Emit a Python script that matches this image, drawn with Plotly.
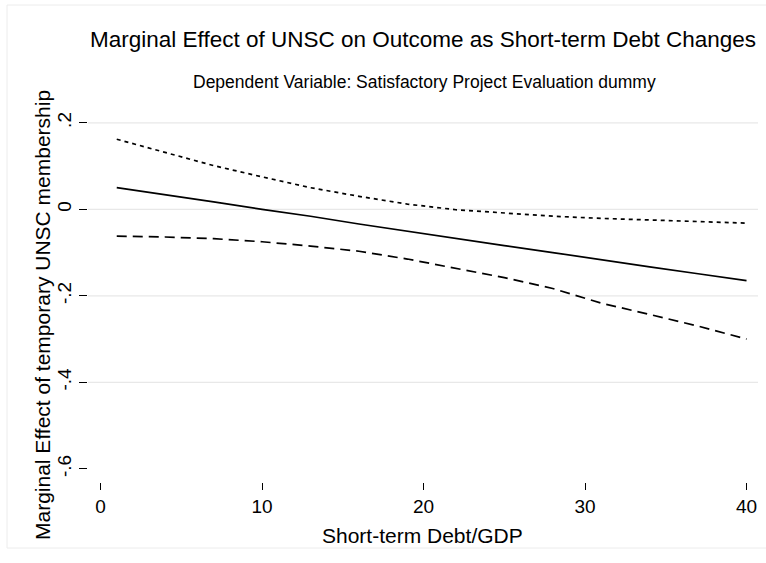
import plotly.graph_objects as go

# ---- data ----
debt_gdp = [1, 4, 7, 10, 13, 16, 19, 22, 25, 28, 31, 34, 37, 40]
marginal_effect = [0.050, 0.034, 0.017, 0.000, -0.016, -0.034, -0.051,
                   -0.068, -0.084, -0.100, -0.117, -0.133, -0.149, -0.165]
upper_bound = [0.162, 0.131, 0.101, 0.075, 0.050, 0.030, 0.012,
               -0.001, -0.009, -0.016, -0.021, -0.025, -0.029, -0.032]
lower_bound = [-0.062, -0.064, -0.068, -0.075, -0.085, -0.097, -0.115,
               -0.136, -0.158, -0.183, -0.217, -0.243, -0.270, -0.300]

x_ticks = [0, 10, 20, 30, 40]
x_tick_labels = ["0", "10", "20", "30", "40"]
y_ticks = [0.2, 0, -0.2, -0.4, -0.6]
y_tick_labels = [".2", "0", "-.2", "-.4", "-.6"]
grid_values = [0.2, 0, -0.2, -0.4]

title_text = "Marginal Effect of UNSC on Outcome as Short-term Debt Changes"
subtitle_text = "Dependent Variable: Satisfactory Project Evaluation dummy"
x_title = "Short-term Debt/GDP"
y_title = "Marginal Effect of temporary UNSC membership"

FONT = "Liberation Sans, Arial, Helvetica, sans-serif"
W, H = 766, 563
L, R, T, B = 88, 8, 110, 81

fig = go.Figure()
fig.add_trace(go.Scatter(x=debt_gdp, y=marginal_effect, mode="lines",
                         line=dict(color="black", width=1.7), showlegend=False))
fig.add_trace(go.Scatter(x=debt_gdp, y=upper_bound, mode="lines",
                         line=dict(color="black", width=1.7, dash="4px,4px"), showlegend=False))
fig.add_trace(go.Scatter(x=debt_gdp, y=lower_bound, mode="lines",
                         line=dict(color="black", width=1.7, dash="10px,6px"), showlegend=False))

shapes = []
for g in grid_values:
    shapes.append(dict(type="line", xref="paper", x0=0, x1=1, yref="y", y0=g, y1=g,
                       line=dict(color="#e8e8e8", width=1.3), layer="below"))

pw = W - L - R
ph = H - T - B
def px_x(p):
    return (p - L) / pw
def px_y(p):
    return (H - B - p) / ph

# faint outer frame
shapes.append(dict(type="rect", xref="paper", yref="paper",
                   x0=px_x(7), x1=px_x(775), y0=px_y(548), y1=px_y(5),
                   line=dict(color="#ececec", width=1), layer="below"))

annotations = [
    dict(text=title_text, xref="paper", yref="paper", x=px_x(423), y=px_y(40),
         showarrow=False, font=dict(size=22.5, color="black", family=FONT),
         xanchor="center", yanchor="middle"),
    dict(text=subtitle_text, xref="paper", yref="paper", x=px_x(424), y=px_y(82),
         showarrow=False, font=dict(size=17.5, color="black", family=FONT),
         xanchor="center", yanchor="middle"),
    dict(text=x_title, xref="paper", yref="paper", x=px_x(422), y=px_y(535),
         showarrow=False, font=dict(size=21, color="black", family=FONT),
         xanchor="center", yanchor="middle"),
    dict(text=y_title, xref="paper", yref="paper", x=px_x(42), y=px_y(315),
         showarrow=False, textangle=-90, font=dict(size=21, color="black", family=FONT),
         xanchor="center", yanchor="middle"),
]

fig.update_layout(
    width=W, height=H,
    margin=dict(l=L, r=R, t=T, b=B, pad=0),
    paper_bgcolor="white", plot_bgcolor="white",
    font=dict(family=FONT, color="black"),
    shapes=shapes, annotations=annotations,
    hovermode=False,
    xaxis=dict(range=[-0.78, 40.71], tickvals=x_ticks, ticktext=x_tick_labels,
               showgrid=False, zeroline=False, showline=False,
               ticks="outside", ticklen=7, tickwidth=1, tickcolor="black",
               tickfont=dict(size=19, family=FONT, color="black")),
    yaxis=dict(range=[-0.6305, 0.2296], tickvals=y_ticks, ticktext=y_tick_labels,
               showgrid=False, zeroline=False, showline=False,
               ticks="outside", ticklen=8, tickwidth=1, tickcolor="black",
               tickangle=-90,
               tickfont=dict(size=19, family=FONT, color="black")),
)

fig.write_html("out.html",
               config={"displayModeBar": False},
               post_script="document.body.style.margin='0';document.body.style.overflow='hidden';")
